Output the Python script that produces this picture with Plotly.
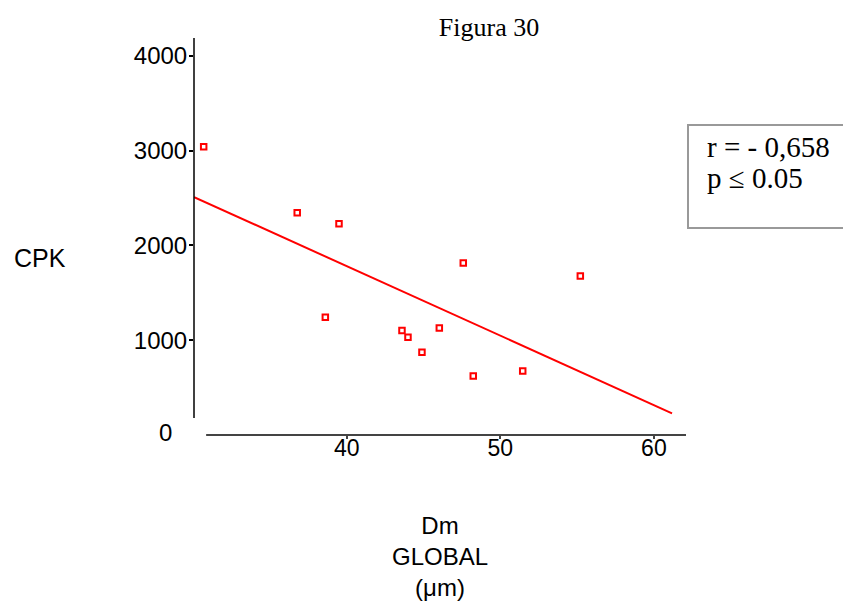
import plotly.graph_objects as go

# Data
dm_global = [30.69, 36.78, 39.50, 47.59, 55.21, 38.61, 43.60, 43.99, 46.03, 44.90, 48.24, 51.46]
cpk = [3041, 2344, 2228, 1816, 1679, 1243, 1102, 1032, 1130, 873, 623, 676]

fit_x = [30.07, 61.18]
fit_y = [2510, 229]

x_ticks = [40, 50, 60]
y_ticks = [0, 1000, 2000, 3000, 4000]

title_text = "Figura 30"
x_title = "Dm<br>GLOBAL<br>(\u03bcm)"
y_title = "CPK"
stat_lines = ["r = - 0,658", "p \u2264 0.05"]

# the page body adds an 8px offset; work in reference pixels minus that offset
OFF = 8
W, H = 851 - OFF, 608 - OFF
L, R, T, B = 194 - OFF, 851 - 686, 38 - OFF, 608 - 435
PW, PH = W - L - R, H - T - B
x_range = [30.06, 62.09]
y_range = [0, 4189]


def px(xr):
    return (xr - OFF - L) / PW


def py(yr):
    return (H - B - (yr - OFF)) / PH


fig = go.Figure()
fig.add_trace(go.Scatter(x=fit_x, y=fit_y, mode="lines",
                         line=dict(color="#ff0000", width=2), showlegend=False))
fig.add_trace(go.Scatter(x=dm_global, y=cpk, mode="markers",
                         marker=dict(symbol="square-open", size=5.5, color="#ff0000",
                                     line=dict(color="#ff0000", width=2)),
                         showlegend=False, cliponaxis=False))

sans = "Liberation Sans, Arial, sans-serif"
serif = "Liberation Serif, Times New Roman, serif"

fig.update_layout(
    width=W, height=H,
    margin=dict(l=L, r=R, t=T, b=B, autoexpand=False),
    paper_bgcolor="white", plot_bgcolor="white",
    title=dict(text=title_text, x=px(489), xanchor="center", xref="paper",
               y=1 - (27 - OFF) / H, yanchor="middle", yref="container",
               font=dict(family=serif, size=26, color="black")),
    xaxis=dict(range=x_range, tickvals=x_ticks, ticktext=[str(v) for v in x_ticks],
               showgrid=False, zeroline=False, showline=False,
               ticks="outside", ticklen=3, tickwidth=2, tickcolor="#444",
               ticklabelstandoff=-11,
               tickfont=dict(family=sans, size=23, color="black")),
    # the 0 label has no tick in the reference: it is drawn as an annotation below
    yaxis=dict(range=y_range, tickvals=y_ticks[1:], ticktext=[str(v) for v in y_ticks[1:]],
               showgrid=False, zeroline=False, showline=False,
               ticks="outside", ticklen=4, tickwidth=2, tickcolor="black",
               ticklabelstandoff=-3,
               tickfont=dict(family=sans, size=24, color="black")),
    shapes=[
        # y axis line (does not reach the x axis)
        dict(type="line", xref="paper", yref="y", x0=0, x1=0, y0=180, y1=y_range[1] + 20,
             line=dict(color="black", width=1.5)),
        # x axis line (starts right of the y axis)
        dict(type="line", xref="x", yref="paper", x0=30.85, x1=x_range[1], y0=0.0, y1=0.0,
             line=dict(color="#444", width=2)),
        # statistics box
        dict(type="rect", xref="paper", yref="paper",
             x0=px(688), x1=px(870), y0=py(228), y1=py(125),
             line=dict(color="#999999", width=2), fillcolor="rgba(0,0,0,0)"),
    ],
    annotations=[
        dict(text=str(y_ticks[0]), xref="paper", yref="y", x=px(174), y=y_ticks[0],
             xanchor="right", yanchor="middle", yshift=3, showarrow=False,
             font=dict(family=sans, size=24, color="black")),
        dict(text=y_title, xref="paper", yref="paper", x=px(40), y=py(258),
             xanchor="center", yanchor="middle", showarrow=False,
             font=dict(family=sans, size=25, color="black")),
        dict(text=x_title, xref="paper", yref="paper", x=px(440), y=py(510),
             xanchor="center", yanchor="top", showarrow=False,
             font=dict(family=sans, size=24, color="black")),
        dict(text=stat_lines[0], xref="paper", yref="paper", x=px(705), y=py(147),
             xanchor="left", yanchor="middle", showarrow=False,
             font=dict(family=serif, size=29, color="black")),
        dict(text=stat_lines[1], xref="paper", yref="paper", x=px(705), y=py(178),
             xanchor="left", yanchor="middle", showarrow=False,
             font=dict(family=serif, size=29, color="black")),
    ],
)

fig.write_html("out.html")
